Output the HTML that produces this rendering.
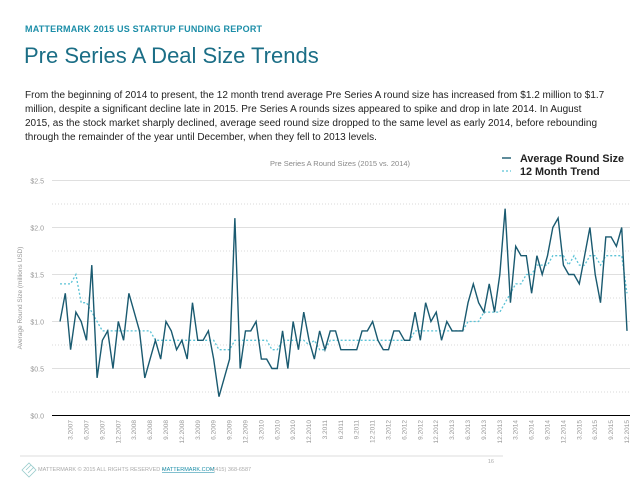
<!DOCTYPE html>
<html><head><meta charset="utf-8"><style>
body{margin:0;width:638px;height:479px;background:#fff;font-family:"Liberation Sans",sans-serif;overflow:hidden;position:relative}
.hdr{position:absolute;left:25px;top:24px;font-size:9px;font-weight:bold;color:#1c8ea8;letter-spacing:0.2px}
.ttl{position:absolute;left:24px;top:43px;font-size:22px;color:#1b6e86}
.par{position:absolute;left:25px;top:89px;width:610px;font-size:10px;line-height:14px;color:#222;white-space:nowrap}
svg{position:absolute;left:0;top:0}
</style></head><body>
<div class="hdr">MATTERMARK 2015 US STARTUP FUNDING REPORT</div>
<div class="ttl">Pre Series A Deal Size Trends</div>
<div class="par">From the beginning of 2014 to present, the 12 month trend average Pre Series A round size has increased from $1.2 million to $1.7<br>million, despite a significant decline late in 2015. Pre Series A rounds sizes appeared to spike and drop in late 2014. In August<br>2015, as the stock market sharply declined, average seed round size dropped to the same level as early 2014, before rebounding<br>through the remainder of the year until December, when they fell to 2013 levels.</div>
<svg id="chart" width="638" height="479"></svg>
<script>
const values=[1.0,1.3,0.7,1.1,1.0,0.8,1.6,0.4,0.8,0.9,0.5,1.0,0.8,1.3,1.1,0.9,0.4,0.6,0.8,0.6,1.0,0.9,0.7,0.8,0.6,1.2,0.8,0.8,0.9,0.6,0.2,0.4,0.6,2.1,0.5,0.9,0.9,1.0,0.6,0.6,0.5,0.5,0.9,0.5,1.0,0.7,1.1,0.8,0.6,0.9,0.7,0.9,
0.9,0.7,0.7,0.7,0.7,0.9,0.9,1.0,0.8,0.7,0.7,0.9,0.9,0.8,0.8,1.1,0.8,1.2,1.0,1.1,0.8,1.0,0.9,0.9,0.9,1.2,1.4,1.2,1.1,1.4,1.1,1.5,2.2,1.2,1.8,1.7,1.7,1.3,1.7,1.5,1.7,2.0,2.1,1.6,1.5,1.5,1.4,1.7,2.0,1.5,1.2,1.9,1.9,1.8,2.0,0.9];
const trend=[1.4,1.4,1.4,1.5,1.2,1.2,1.1,1.0,0.9,0.9,0.9,0.9,0.9,0.9,0.9,0.9,0.9,0.9,0.8,0.8,0.8,0.8,0.8,0.8,0.8,0.8,0.8,0.8,0.8,0.8,0.7,0.7,0.7,0.8,0.8,0.8,0.8,0.8,0.8,0.8,0.7,0.7,0.8,0.8,0.8,0.8,0.8,0.75,0.8,0.7,0.7,0.8,
0.8,0.8,0.8,0.8,0.8,0.8,0.8,0.8,0.8,0.8,0.8,0.8,0.8,0.8,0.8,0.9,0.9,0.9,0.9,0.9,0.9,0.9,0.9,0.9,0.9,1.0,1.0,1.0,1.1,1.1,1.1,1.1,1.2,1.3,1.4,1.4,1.5,1.5,1.6,1.6,1.6,1.7,1.7,1.7,1.6,1.7,1.6,1.6,1.7,1.7,1.6,1.7,1.7,1.7,1.7,1.3];
const yTicks=[0,0.5,1.0,1.5,2.0,2.5];
const yTickLabels=["$0.0","$0.5","$1.0","$1.5","$2.0","$2.5"];
const xLabels=["3.2007","6.2007","9.2007","12.2007","3.2008","6.2008","9.2008","12.2008","3.2009","6.2009","9.2009","12.2009","3.2010","6.2010","9.2010","12.2010","3.2011","6.2011","9.2011","12.2011","3.2012","6.2012","9.2012","12.2012","3.2013","6.2013","9.2013","12.2013","3.2014","6.2014","9.2014","12.2014","3.2015","6.2015","9.2015","12.2015"];
const NS="http://www.w3.org/2000/svg",svg=document.getElementById('chart');
const X0=60,X1=627,Y0=415.5,YT=180.5;
const xs=i=>X0+(X1-X0)*i/(values.length-1);
const ys=v=>Y0-(Y0-YT)*v/2.5;
function mk(t,a,txt){const e=document.createElementNS(NS,t);for(const k in a)e.setAttribute(k,a[k]);if(txt!==undefined)e.textContent=txt;svg.appendChild(e);return e;}
for(let v=0.25;v<2.5;v+=0.5){const g=mk('line',{x1:52,x2:630,y1:ys(v),y2:ys(v),stroke:'#ccc','stroke-width':0.8,'stroke-dasharray':'1,2'});

}
yTicks.forEach((v,i)=>{
 if(v>0){const g=mk('line',{x1:52,x2:630,y1:ys(v),y2:ys(v),stroke:'#d4d4d4','stroke-width':0.8});
 
 }
 const t=mk('text',{x:44,y:ys(v)+3,'text-anchor':'end','font-size':7,fill:'#999'},yTickLabels[i]);
 
 
});
const base=mk('line',{x1:52,x2:630,y1:Y0,y2:Y0,stroke:'#000','stroke-width':1});


xLabels.forEach((l,k)=>{const x=xs(2+3*k)+2;const t=mk('text',{x:x,y:420,'text-anchor':'end','font-size':6.5,fill:'#999',transform:`rotate(-90 ${x} 420)`},l);
 
 });
const yt=mk('text',{x:22,y:298,'text-anchor':'middle','font-size':6.5,fill:'#999',transform:'rotate(-90 22 298)'},'Average Round Size (millions USD)');


const ct=mk('text',{x:340,y:166,'text-anchor':'middle','font-size':7.5,fill:'#888'},'Pre Series A Round Sizes (2015 vs. 2014)');


const tp=mk('polyline',{points:trend.map((v,i)=>xs(i)+','+ys(v)).join(' '),fill:'none',stroke:'#5bc3d6','stroke-width':1.3,'stroke-dasharray':'2,2'});


const vp=mk('polyline',{points:values.map((v,i)=>xs(i)+','+ys(v)).join(' '),fill:'none',stroke:'#1a5a70','stroke-width':1.4,'stroke-linejoin':'miter'});


const l1=mk('line',{x1:502,x2:511,y1:158,y2:158,stroke:'#1a5a70','stroke-width':1.4});


const lt1=mk('text',{x:520,y:162,'font-size':10.8,'font-weight':'bold',fill:'#222'},'Average Round Size');


const l2=mk('line',{x1:502,x2:511,y1:171,y2:171,stroke:'#5bc3d6','stroke-width':1.3,'stroke-dasharray':'2,2'});


const lt2=mk('text',{x:520,y:175,'font-size':10.8,'font-weight':'bold',fill:'#222'},'12 Month Trend');


const fl=mk('line',{x1:20,x2:503,y1:456,y2:456,stroke:'#ddd','stroke-width':1});


const pn=mk('text',{x:494,y:463,'text-anchor':'end','font-size':5.5,fill:'#aaa'},'16');


const lg=mk('path',{d:'M22 470 L29 463 L36 470 L29 477 Z M26 470 L31 465 M28 473 L34 467',fill:'none',stroke:'#9cc','stroke-width':0.8});


const ft=mk('text',{x:38,y:471,'font-size':5.5,fill:'#aaa'},'MATTERMARK © 2015 ALL RIGHTS RESERVED   •');


const fk=mk('text',{x:162,y:471,'font-size':5.5,fill:'#1c8ea8','text-decoration':'underline'},'MATTERMARK.COM');


const fp=mk('text',{x:210,y:471,'font-size':5.5,fill:'#aaa'},'•   (415) 368-6587');


</script>
</body></html>
